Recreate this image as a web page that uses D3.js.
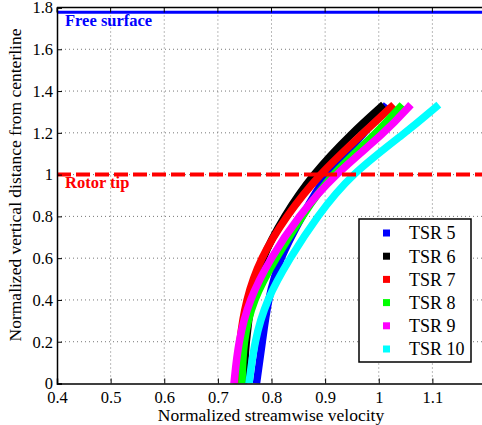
<!DOCTYPE html>
<html>
<head>
<meta charset="utf-8">
<script src="https://cdn.jsdelivr.net/npm/d3@7"></script>
<style>
  body { margin: 0; background: white; }
  text { font-family: "Liberation Serif", "Times New Roman", serif; }
</style>
</head>
<body>
<svg id="svgContainer"></svg>
<script>
// Set up the SVG container
const svgWidth = 482;
const svgHeight = 425;
const svg = d3.select("#svgContainer")
  .attr("width", svgWidth)
  .attr("height", svgHeight);

// data
const heights = [0, 0.2, 0.4, 0.6, 0.8, 1.0, 1.2, 1.335];
const tsr5 = [0.772, 0.783, 0.793, 0.815, 0.857, 0.900, 0.975, 1.015];
const tsr6 = [0.748, 0.752, 0.762, 0.781, 0.823, 0.876, 0.950, 1.009];
const tsr7 = [0.735, 0.740, 0.752, 0.779, 0.827, 0.888, 0.972, 1.028];
const tsr8 = [0.745, 0.747, 0.765, 0.808, 0.857, 0.910, 0.997, 1.044];
const tsr9 = [0.730, 0.738, 0.758, 0.798, 0.850, 0.917, 1.012, 1.060];
const tsr10 = [0.758, 0.768, 0.790, 0.834, 0.885, 0.947, 1.050, 1.112];
const seriesNames = ["TSR 5", "TSR 6", "TSR 7", "TSR 8", "TSR 9", "TSR 10"];
const seriesColors = ["#0000ff", "#000000", "#ff0000", "#00ff00", "#ff00ff", "#00ffff"];
const seriesValues = [tsr5, tsr6, tsr7, tsr8, tsr9, tsr10];
const xTicks = [0.4, 0.5, 0.6, 0.7, 0.8, 0.9, 1, 1.1];
const yTicks = [0, 0.2, 0.4, 0.6, 0.8, 1, 1.2, 1.4, 1.6, 1.8];
const freeSurface = 1.777;
const rotorTip = 1.0;

// plot box (right end runs off the picture)
const plotLeft = 57, plotTop = 7.5, plotBottom = 383.5, plotRight = 486;

const x = d3.scaleLinear().domain([0.4, 1.2]).range([plotLeft, plotRight]);
const y = d3.scaleLinear().domain([0, 1.8]).range([plotBottom, plotTop]);

// dotted grid
const grid = svg.append("g");
grid.selectAll(".vgrid")
  .data(xTicks.slice(1))
  .enter()
  .append("line")
  .attr("x1", d => x(d)).attr("x2", d => x(d))
  .attr("y1", plotTop).attr("y2", plotBottom)
  .attr("stroke", "#777")
  .attr("stroke-width", 1)
  .attr("stroke-dasharray", "1,3");
grid.selectAll(".hgrid")
  .data(yTicks.slice(1, -1))
  .enter()
  .append("line")
  .attr("x1", plotLeft).attr("x2", plotRight)
  .attr("y1", d => y(d)).attr("y2", d => y(d))
  .attr("stroke", "#777")
  .attr("stroke-width", 1)
  .attr("stroke-dasharray", "1,3");

// velocity profiles, thick like dense markers
const line = d3.line()
  .x(d => x(d[0]))
  .y(d => y(d[1]))
  .curve(d3.curveBasis);

seriesValues.forEach((vals, i) => {
  svg.append("path")
    .datum(vals.map((v, j) => [v, heights[j]]))
    .attr("d", line)
    .attr("fill", "none")
    .attr("stroke", seriesColors[i])
    .attr("stroke-width", 7.5)
    .attr("stroke-linecap", "butt");
});

// cover anything below the x axis
svg.append("rect")
  .attr("x", 0).attr("y", plotBottom)
  .attr("width", svgWidth).attr("height", svgHeight - plotBottom)
  .attr("fill", "white");

// free surface and rotor tip lines
svg.append("line")
  .attr("x1", plotLeft).attr("x2", plotRight)
  .attr("y1", y(freeSurface)).attr("y2", y(freeSurface))
  .attr("stroke", "#0000ff")
  .attr("stroke-width", 3);
svg.append("text")
  .attr("x", 65).attr("y", 26)
  .attr("fill", "#0000ff")
  .attr("font-weight", "bold")
  .attr("font-size", 16.5)
  .text("Free surface");

svg.append("line")
  .attr("x1", plotLeft).attr("x2", plotRight)
  .attr("y1", y(rotorTip)).attr("y2", y(rotorTip))
  .attr("stroke", "#ff0000")
  .attr("stroke-width", 4)
  .attr("stroke-dasharray", "14,5");
svg.append("text")
  .attr("x", 65).attr("y", 188)
  .attr("fill", "#ff0000")
  .attr("font-weight", "bold")
  .attr("font-size", 16.5)
  .text("Rotor tip");

// axes, ticks inside like MATLAB
const xAxis = d3.axisBottom(x).tickValues(xTicks).tickSize(-5).tickPadding(8)
  .tickFormat(d => d3.format("")(+d.toFixed(1)));
const yAxis = d3.axisLeft(y).tickValues(yTicks).tickSize(-5).tickPadding(4)
  .tickFormat(d => d3.format("")(+d.toFixed(1)));

const gx = svg.append("g").attr("transform", `translate(0,${plotBottom})`).call(xAxis);
const gy = svg.append("g").attr("transform", `translate(${plotLeft},0)`).call(yAxis);
[gx, gy].forEach(g => {
  g.select(".domain").attr("stroke", "black").attr("stroke-width", 1.5);
  g.selectAll("text").attr("font-size", 16.5).attr("fill", "black");
});

// top box line with its ticks
svg.append("line")
  .attr("x1", plotLeft).attr("x2", plotRight)
  .attr("y1", plotTop).attr("y2", plotTop)
  .attr("stroke", "black").attr("stroke-width", 1.5);
svg.selectAll(".ttick")
  .data(xTicks)
  .enter()
  .append("line")
  .attr("x1", d => x(d)).attr("x2", d => x(d))
  .attr("y1", plotTop).attr("y2", plotTop + 5)
  .attr("stroke", "black");

// axis titles
svg.append("text")
  .attr("x", 271).attr("y", 421)
  .attr("text-anchor", "middle")
  .attr("font-size", 17.5)
  .text("Normalized streamwise velocity");
svg.append("text")
  .attr("transform", "translate(21,185) rotate(-90)")
  .attr("text-anchor", "middle")
  .attr("font-size", 17.5)
  .text("Normalized vertical distance from centerline");

// legend
const legend = svg.append("g").attr("transform", "translate(359,219)");
legend.append("rect")
  .attr("width", 112).attr("height", 143)
  .attr("fill", "white")
  .attr("stroke", "black")
  .attr("stroke-width", 1.5);
const items = legend.selectAll(".item")
  .data(seriesNames)
  .enter()
  .append("g")
  .attr("transform", (d, i) => `translate(0, ${14 + i * 23.2})`);
items.append("rect")
  .attr("x", 24).attr("y", -3.5)
  .attr("width", 7).attr("height", 7)
  .attr("fill", (d, i) => seriesColors[i]);
items.append("text")
  .attr("x", 50).attr("y", 0)
  .attr("dy", "0.35em")
  .attr("font-size", 18)
  .text(d => d);
</script>
</body>
</html>
